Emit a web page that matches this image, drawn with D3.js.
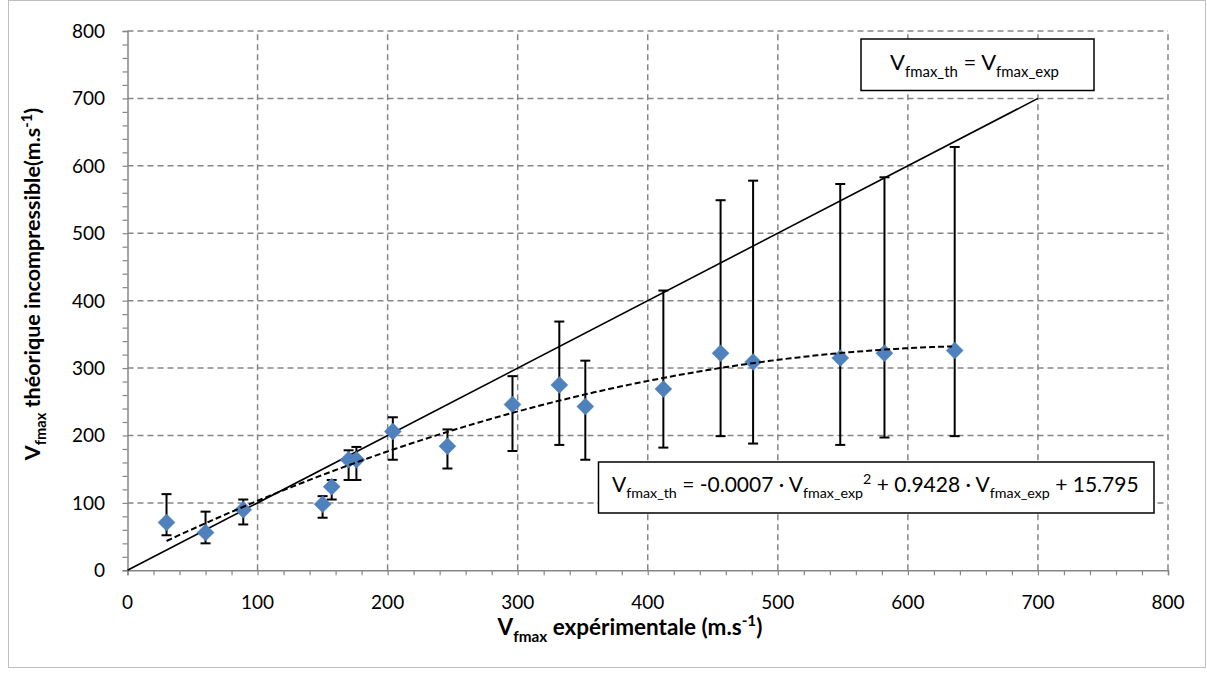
<!DOCTYPE html>
<html><head><meta charset="utf-8">
<script src="https://cdn.jsdelivr.net/npm/d3@7/dist/d3.min.js"></script>
<style>
html,body{margin:0;padding:0;background:#fff;}
svg{display:block;font-family:Lato,"Open Sans",sans-serif;}
</style></head><body>
<svg id="chart" width="1207" height="678"></svg>
<script>
// ---- data ----
const vExp   = [30, 60, 89, 150, 157, 170, 176, 204, 246, 296, 332, 352, 412, 456, 481, 548, 582, 636];
const vTh    = [71, 56, 90, 98, 124, 164, 164, 206, 184, 246, 275, 243, 269, 322, 309, 315, 322, 326];
const errHi  = [113, 87, 105, 110, 134, 178, 183, 227, 209, 288, 369, 311, 415, 549, 578, 573, 583, 628];
const errLo  = [52, 40, 68, 78, 105, 134, 134, 164, 151, 177, 186, 164, 182, 199, 188, 186, 197, 199];
const identity = [[0, 0], [700, 700]];
const trendCoef = [-0.0007, 0.9428, 15.795]; // a*x^2 + b*x + c (shown equation)
const xTicks = [0, 100, 200, 300, 400, 500, 600, 700, 800];
const yTicks = [0, 100, 200, 300, 400, 500, 600, 700, 800];

const svg = d3.select("#chart");
const x = d3.scaleLinear().domain([0, 800]).range([127.5, 1168]);
const y = d3.scaleLinear().domain([0, 800]).range([570.3, 31]);
const axisCol = "#868686";

// outer border
svg.append("rect").attr("x", 8.5).attr("y", 0.5).attr("width", 1197).attr("height", 667)
  .attr("fill", "none").attr("stroke", "#bfbfbf").attr("stroke-width", 1);

// grid
const grid = svg.append("g").attr("stroke", axisCol).attr("stroke-width", 1.5).attr("stroke-dasharray", "6,4");
grid.selectAll("line.h").data(yTicks.filter(d => d > 0)).join("line")
  .attr("x1", x(0)).attr("x2", x(800)).attr("y1", d => y(d)).attr("y2", d => y(d));
grid.selectAll("line.v").data(xTicks.filter(d => d > 0)).join("line")
  .attr("y1", y(0)).attr("y2", y(800)).attr("x1", d => x(d)).attr("x2", d => x(d));

// axes
const xAxis = d3.axisBottom(x).tickValues(d3.range(0, 801, 20)).tickSize(5).tickFormat("");
const yAxis = d3.axisLeft(y).tickValues(d3.range(0, 801, 20)).tickSize(5).tickFormat("");
const gx = svg.append("g").attr("transform", `translate(0,${y(0)})`).call(xAxis);
const gy = svg.append("g").attr("transform", `translate(${x(0)},0)`).call(yAxis);
[gx, gy].forEach(g => {
  g.select(".domain").attr("stroke", axisCol).attr("stroke-width", 1.5);
  g.selectAll(".tick line").attr("stroke", axisCol).attr("stroke-width", 1.2);
});
svg.append("g").selectAll("text").data(xTicks).join("text")
  .attr("x", d => x(d)).attr("y", 609).attr("text-anchor", "middle")
  .attr("font-size", 19).attr("fill", "#000").text(d => d);
svg.append("g").selectAll("text").data(yTicks).join("text")
  .attr("x", 105).attr("y", d => y(d) + 7).attr("text-anchor", "end")
  .attr("font-size", 19).attr("fill", "#000").text(d => d);

// rich text helper
function rich(sel, parts, size) {
  let shift = 0;
  parts.forEach(p => {
    const t = sel.append("tspan").text(p.t);
    let target = 0, fs = size;
    if (p.sub) { target = size * 0.3; fs = size * 0.68; }
    if (p.sup) { target = -size * 0.38; fs = size * 0.68; }
    t.attr("dy", target - shift).attr("font-size", fs);
    shift = target;
  });
}

// axis titles
const xt = svg.append("text").attr("x", 630).attr("y", 635).attr("text-anchor", "middle")
  .attr("font-weight", "bold").attr("font-size", 22.5);
rich(xt, [{t: "V"}, {t: "fmax", sub: 1}, {t: " expérimentale (m.s"}, {t: "-1", sup: 1}, {t: ")"}], 22.5);
const yt = svg.append("text").attr("transform", "translate(40,284) rotate(-90)")
  .attr("text-anchor", "middle").attr("font-weight", "bold").attr("font-size", 21.5);
rich(yt, [{t: "V"}, {t: "fmax", sub: 1}, {t: " théorique incompressible(m.s"}, {t: "-1", sup: 1}, {t: ")"}], 21.5);

// identity line
svg.append("path").datum(identity)
  .attr("d", d3.line().x(d => x(d[0])).y(d => y(d[1])))
  .attr("fill", "none").attr("stroke", "#000").attr("stroke-width", 1.6);

// error bars
const eb = svg.append("g").attr("stroke", "#000").attr("stroke-width", 2);
vExp.forEach((v, i) => {
  eb.append("line").attr("x1", x(v)).attr("x2", x(v)).attr("y1", y(errLo[i])).attr("y2", y(errHi[i]));
  eb.append("line").attr("x1", x(v) - 5).attr("x2", x(v) + 5).attr("y1", y(errLo[i])).attr("y2", y(errLo[i]));
  eb.append("line").attr("x1", x(v) - 5).attr("x2", x(v) + 5).attr("y1", y(errHi[i])).attr("y2", y(errHi[i]));
});

// markers
svg.append("g").selectAll("path").data(vExp).join("path")
  .attr("transform", (d, i) => `translate(${x(d)},${y(vTh[i])})`)
  .attr("d", "M0,-8.5L8.5,0L0,8.5L-8.5,0Z")
  .attr("fill", "#4f81bd").attr("stroke", "#4a7ebb").attr("stroke-width", 0.5);

// trendline (from displayed equation)
const xmin = d3.min(vExp), xmax = d3.max(vExp);
const trend = d3.range(xmin, xmax + 0.1, 4).map(v => [v, trendCoef[0] * v * v + trendCoef[1] * v + trendCoef[2]]);
svg.append("path").datum(trend)
  .attr("d", d3.line().x(d => x(d[0])).y(d => y(d[1])))
  .attr("fill", "none").attr("stroke", "#000").attr("stroke-width", 2).attr("stroke-dasharray", "6,3");

// label boxes
svg.append("rect").attr("x", 861).attr("y", 39).attr("width", 233).attr("height", 51.5)
  .attr("fill", "#fff").attr("stroke", "#000").attr("stroke-width", 1.5);
const t1 = svg.append("text").attr("x", 890).attr("y", 70).attr("font-size", 22);
rich(t1, [{t: "V"}, {t: "fmax_th", sub: 1}, {t: " = V"}, {t: "fmax_exp", sub: 1}], 22);

svg.append("rect").attr("x", 598.5).attr("y", 462).attr("width", 555.5).attr("height", 51)
  .attr("fill", "#fff").attr("stroke", "#000").attr("stroke-width", 1.5);
const t2 = svg.append("text").attr("x", 612).attr("y", 492).attr("font-size", 21);
rich(t2, [{t: "V"}, {t: "fmax_th", sub: 1}, {t: " = -0.0007 · V"}, {t: "fmax_exp", sub: 1}, {t: "2", sup: 1},
          {t: " + 0.9428 · V"}, {t: "fmax_exp", sub: 1}, {t: " + 15.795"}], 21);
</script>
</body></html>
